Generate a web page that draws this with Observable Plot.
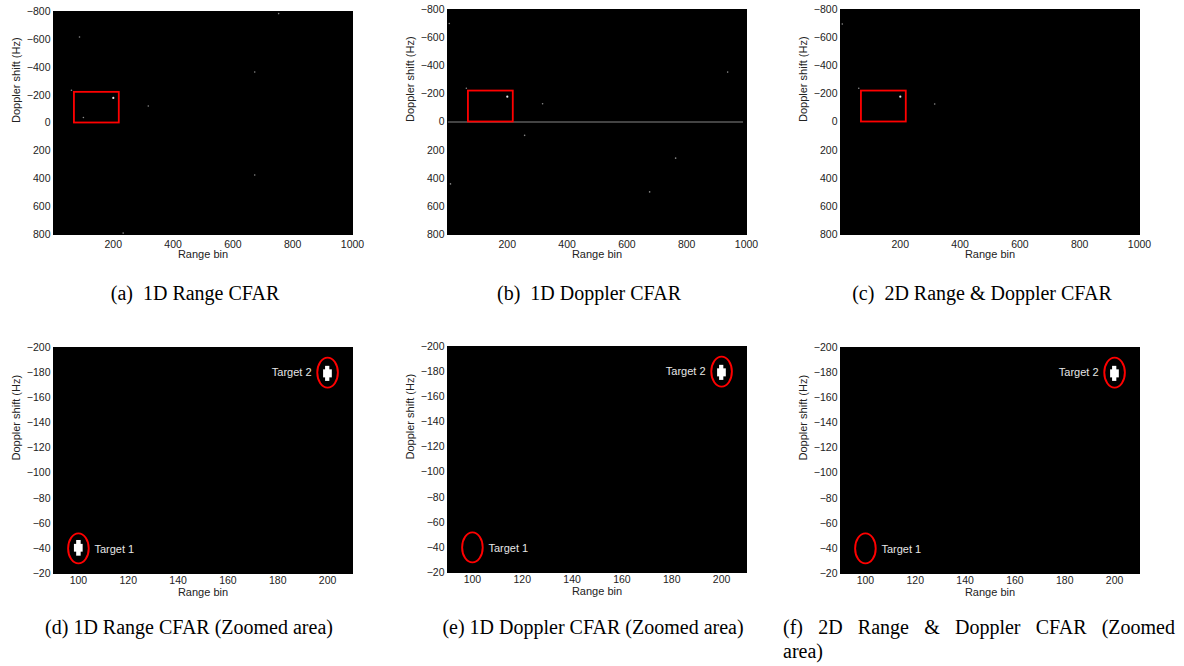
<!DOCTYPE html>
<html>
<head>
<meta charset="utf-8">
<script src="https://cdn.jsdelivr.net/npm/d3@7"></script>
<script src="https://cdn.jsdelivr.net/npm/@observablehq/plot@0.6"></script>
<style>
  html, body { margin: 0; padding: 0; background: #fff; }
  #fig { position: relative; width: 1184px; height: 666px; overflow: hidden; background: #fff; }
  #fig svg { position: absolute; overflow: visible; }
  .cap { position: absolute; font-family: "Liberation Serif", "Times New Roman", serif; font-size: 20px; color: #000; white-space: nowrap; line-height: 1; }
  .cap.c { transform: translateX(-50%); }
</style>
</head>
<body>
<div id="fig"></div>
<script>
// ---------- data ----------
const fullRangeDomain = [0, 1000];
const fullDopplerDomain = [-800, 800];
const zoomRangeDomain = [90, 210];
const zoomDopplerDomain = [-200, -20];

const rangeTicksFull = [200, 400, 600, 800, 1000];
const dopplerTicksFull = [-800, -600, -400, -200, 0, 200, 400, 600, 800];
const rangeTicksZoom = [100, 120, 140, 160, 180, 200];
const dopplerTicksZoom = [-200, -180, -160, -140, -120, -100, -80, -60, -40, -20];

// zoomed area box drawn on the full views
const zoomBoxRange = [70, 220];
const zoomBoxDoppler = [-220, 0];

// targets
const targetNames = ["Target 1", "Target 2"];
const targetRange = [100, 200];
const targetDoppler = [-40, -180];

// detections in the full views (range bin, Doppler Hz)
const rangeCfarDetRange   = [200, 100, 87, 60, 317, 673, 673, 753, 233];
const rangeCfarDetDoppler = [-180, -40, -617, -235, -122, -366, 373, -785, 790];
const dopplerCfarDetRange   = [200, 318, 258, 763, 676, 937, 6, 10, 63];
const dopplerCfarDetDoppler = [-180, -130, 95, 257, 497, -355, -700, 440, -240];
const dopplerCfarZeroLineRange = [3, 990]; // zero-Doppler clutter line detected by 1D Doppler CFAR
const cfar2dDetRange   = [200, 315, 61, 6];
const cfar2dDetDoppler = [-180, -128, -240, -697];

// detected cells in the zoomed views
const cellTarget   = ["Target 1", "Target 1", "Target 2", "Target 2"];
const cellRange1   = [99.3, 98.4, 199.2, 198.4];
const cellRange2   = [101.1, 101.9, 200.9, 201.9];
const cellDoppler1 = [-46.3, -43.2, -185, -182.2];
const cellDoppler2 = [-33.8, -37, -173, -175.8];

const captionsTop = ["(a)\u00a0 1D Range CFAR", "(b)\u00a0 1D Doppler CFAR", "(c)\u00a0 2D Range & Doppler CFAR"];
const captionsBottom = ["(d) 1D Range CFAR (Zoomed area)", "(e) 1D Doppler CFAR (Zoomed area)", "(f) 2D Range & Doppler CFAR (Zoomed", "area)"];

// ---------- helpers ----------
const fig = document.getElementById("fig");
const fmt = d => d < 0 ? "\u2212" + (-d) : String(d);
const targets = targetNames.map((name, i) => ({name, range: targetRange[i], doppler: targetDoppler[i]}));
const cells = cellTarget.map((t, i) => ({target: t, r1: cellRange1[i], r2: cellRange2[i], d1: cellDoppler1[i], d2: cellDoppler2[i]}));
const pts = (rs, ds) => rs.map((r, i) => ({range: r, doppler: ds[i]}));

const ellipse = {
  draw(context) {
    const rx = 10.3, ry = 15, k = 0.5523;
    context.moveTo(rx, 0);
    context.bezierCurveTo(rx, ry * k, rx * k, ry, 0, ry);
    context.bezierCurveTo(-rx * k, ry, -rx, ry * k, -rx, 0);
    context.bezierCurveTo(-rx, -ry * k, -rx * k, -ry, 0, -ry);
    context.bezierCurveTo(rx * k, -ry, rx, -ry * k, rx, 0);
    context.closePath();
  }
};

function panel({left, top, w, h, xDomain, yDomain, xTicks, yTicks, xPad, labelDy, marks}) {
  const mL = 50, mR = 20, mT = 10, mB = 36;
  const p = Plot.plot({
    width: w + mL + mR, height: h + mT + mB,
    marginLeft: mL, marginRight: mR, marginTop: mT, marginBottom: mB,
    x: {domain: xDomain, axis: null},
    y: {domain: [yDomain[1], yDomain[0]], axis: null},
    style: {fontFamily: "'Liberation Sans', Arial, sans-serif", fontSize: "10.5px", background: "transparent", color: "#222", overflow: "visible"},
    marks: [
      Plot.frame({fill: "black", stroke: "black"}),
      ...marks,
      Plot.axisX(xTicks, {tickSize: 0, tickPadding: xPad, tickFormat: fmt, label: null, fill: "#222"}),
      Plot.axisY(yTicks, {tickSize: 0, tickPadding: 3, tickFormat: fmt, label: null, fill: "#222"}),
      Plot.text(["Range bin"], {text: d => d, frameAnchor: "bottom", dy: labelDy, fontSize: 11, fill: "#222"}),
      Plot.text(["Doppler shift (Hz)"], {text: d => d, frameAnchor: "left", rotate: -90, dx: -37, fontSize: 11, fill: "#222"})
    ]
  });
  p.style.left = (left - mL) + "px";
  p.style.top = (top - mT) + "px";
  fig.appendChild(p);
}

function fullMarks(det, extra = []) {
  return [
    ...extra,
    Plot.dot(det.slice(1), {x: "range", y: "doppler", r: 0.8, fill: "#8a8a8a", stroke: null}),
    Plot.dot(det.slice(0, 1), {x: "range", y: "doppler", r: 1.1, fill: "#e8e8e8", stroke: null}),
    Plot.rect([{r1: zoomBoxRange[0], r2: zoomBoxRange[1], d1: zoomBoxDoppler[0], d2: zoomBoxDoppler[1]}],
      {x1: "r1", x2: "r2", y1: "d1", y2: "d2", fill: "none", stroke: "#ff0000", strokeWidth: 1.8})
  ];
}

function zoomMarks(detected) {
  return [
    Plot.rect(cells.filter(c => detected.includes(c.target)), {x1: "r1", x2: "r2", y1: "d1", y2: "d2", fill: "white"}),
    Plot.dot(targets, {x: "range", y: "doppler", symbol: ellipse, stroke: "#ff0000", strokeWidth: 1.9, fill: "none"}),
    Plot.text(targets.filter(t => t.name === "Target 1"), {x: "range", y: "doppler", text: "name", dx: 16, dy: 1, textAnchor: "start", fontSize: 11, fill: "#e6e6e6"}),
    Plot.text(targets.filter(t => t.name === "Target 2"), {x: "range", y: "doppler", text: "name", dx: -16, textAnchor: "end", fontSize: 11, fill: "#e6e6e6"})
  ];
}

// ---------- top row ----------
const topCommon = {w: 299, xDomain: fullRangeDomain, yDomain: fullDopplerDomain, xTicks: rangeTicksFull, yTicks: dopplerTicksFull, xPad: 6, labelDy: 23};
panel({...topCommon, left: 53, top: 11, h: 223, marks: fullMarks(pts(rangeCfarDetRange, rangeCfarDetDoppler))});
panel({...topCommon, left: 447, top: 9, h: 225, marks: fullMarks(pts(dopplerCfarDetRange, dopplerCfarDetDoppler), [
  Plot.ruleY([0], {x1: dopplerCfarZeroLineRange[0], x2: dopplerCfarZeroLineRange[1], stroke: "#5a5a5a", strokeWidth: 1.6})
])});
panel({...topCommon, left: 840, top: 9, h: 225, marks: fullMarks(pts(cfar2dDetRange, cfar2dDetDoppler))});

// ---------- bottom row ----------
const botCommon = {w: 299, h: 226, xDomain: zoomRangeDomain, yDomain: zoomDopplerDomain, xTicks: rangeTicksZoom, yTicks: dopplerTicksZoom, xPad: 3, labelDy: 22};
panel({...botCommon, left: 53, top: 347, marks: zoomMarks(["Target 1", "Target 2"])});
panel({...botCommon, left: 447, top: 346, marks: zoomMarks(["Target 2"])});
panel({...botCommon, left: 840, top: 347, marks: zoomMarks(["Target 2"])});

// ---------- captions ----------
function cap(text, x, y, centered, extraStyle = "") {
  const d = document.createElement("div");
  d.className = "cap" + (centered ? " c" : "");
  d.style.cssText = `left:${x}px; top:${y}px; ${extraStyle}`;
  d.textContent = text;
  fig.appendChild(d);
}
cap(captionsTop[0], 195, 283, true);
cap(captionsTop[1], 589, 283, true);
cap(captionsTop[2], 982, 283, true);
cap(captionsBottom[0], 189, 617, true);
cap(captionsBottom[1], 593, 617, true);
cap(captionsBottom[2], 783, 617, false, "width:392px; white-space:normal; text-align:justify; text-align-last:justify;");
cap(captionsBottom[3], 783, 641, false);
</script>
</body>
</html>
